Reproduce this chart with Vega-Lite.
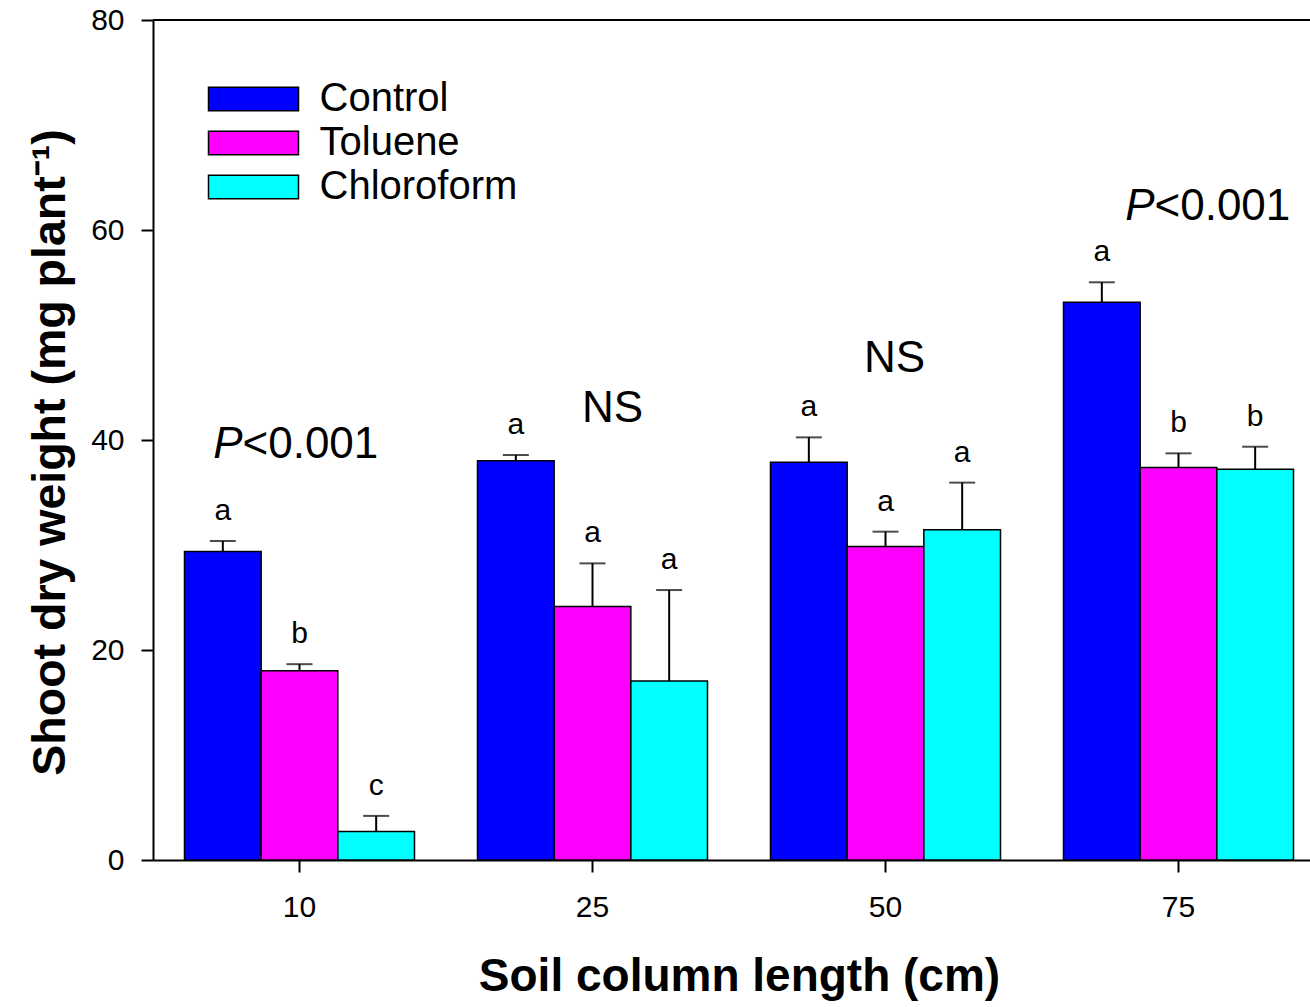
{
  "$schema": "https://vega.github.io/schema/vega-lite/v6.json",
  "autosize": {"type": "none"},
  "padding": {"left": 153, "top": 20, "right": 0, "bottom": 147},
  "width": 1157,
  "height": 840,
  "background": "white",
  "config": {
    "view": {"stroke": null},
    "font": "Liberation Sans",
    "axis": {"grid": false, "domainColor": "black", "tickColor": "black", "labelColor": "black", "titleColor": "black", "domainWidth": 2, "tickWidth": 2, "labelFont": "Liberation Sans", "titleFont": "Liberation Sans"}
  },
  "datasets": {
    "bars": [
      {"length": "10", "treatment": "Control", "mean": 29.37, "upper": 30.38, "letter": "a"},
      {"length": "10", "treatment": "Toluene", "mean": 18.03, "upper": 18.65, "letter": "b"},
      {"length": "10", "treatment": "Chloroform", "mean": 2.72, "upper": 4.2, "letter": "c"},
      {"length": "25", "treatment": "Control", "mean": 38.03, "upper": 38.57, "letter": "a"},
      {"length": "25", "treatment": "Toluene", "mean": 24.15, "upper": 28.25, "letter": "a"},
      {"length": "25", "treatment": "Chloroform", "mean": 17.05, "upper": 25.71, "letter": "a"},
      {"length": "50", "treatment": "Control", "mean": 37.87, "upper": 40.25, "letter": "a"},
      {"length": "50", "treatment": "Toluene", "mean": 29.86, "upper": 31.27, "letter": "a"},
      {"length": "50", "treatment": "Chloroform", "mean": 31.45, "upper": 35.94, "letter": "a"},
      {"length": "75", "treatment": "Control", "mean": 53.11, "upper": 55.02, "letter": "a"},
      {"length": "75", "treatment": "Toluene", "mean": 37.38, "upper": 38.73, "letter": "b"},
      {"length": "75", "treatment": "Chloroform", "mean": 37.22, "upper": 39.36, "letter": "b"}
    ],
    "notes": [
      {"length": "10", "pos": 38.3, "kind": "P"},
      {"length": "75", "pos": 60.95, "kind": "P"},
      {"length": "25", "pos": 41.75, "kind": "NS"},
      {"length": "50", "pos": 46.5, "kind": "NS"}
    ]
  },
  "encoding": {
    "x": {
      "field": "length", "type": "nominal", "sort": ["10", "25", "50", "75"],
      "scale": {"range": [0, 1172], "paddingInner": 0.215, "paddingOuter": 0.1075},
      "axis": {"labelAngle": 0, "labelFontSize": 30, "labelPadding": 20, "tickSize": 12, "title": "Soil column length (cm)", "titleFontSize": 46, "titleFontWeight": "bold", "titlePadding": 32}
    }
  },
  "layer": [
    {
      "data": {"name": "bars"},
      "mark": {"type": "bar", "stroke": "black", "strokeWidth": 1.5},
      "encoding": {
        "xOffset": {"field": "treatment", "type": "nominal", "sort": ["Control", "Toluene", "Chloroform"], "scale": {"paddingInner": 0, "paddingOuter": 0}},
        "y": {
          "field": "mean", "type": "quantitative",
          "scale": {"domain": [0, 80], "nice": false},
          "axis": {"values": [0, 20, 40, 60, 80], "labelFontSize": 30, "labelPadding": 17, "tickSize": 12, "title": "Shoot dry weight (mg plant⁻¹)", "titleFontSize": 46.5, "titleFontWeight": "bold", "titlePadding": 16, "titleY": 432}
        },
        "color": {
          "field": "treatment", "type": "nominal", "sort": ["Control", "Toluene", "Chloroform"],
          "scale": {"domain": ["Control", "Toluene", "Chloroform"], "range": ["#0000FF", "#FF00FF", "#00FFFF"]},
          "legend": {
            "title": null, "orient": "none", "legendX": 80.5, "legendY": 59, "padding": 0,
            "symbolType": "M-3.6,-0.94H3.6V0.94H-3.6Z", "symbolSize": 625, "symbolStrokeColor": "black", "symbolStrokeWidth": 1.5, "symbolOpacity": 1,
            "symbolOffset": 0, "labelOffset": 46, "labelFontSize": 40, "labelFont": "Liberation Sans", "labelColor": "black", "rowPadding": 4, "labelLimit": 400
          }
        }
      }
    },
    {
      "data": {"name": "bars"},
      "mark": {"type": "rule", "color": "black", "strokeWidth": 2},
      "encoding": {
        "xOffset": {"field": "treatment", "type": "nominal", "sort": ["Control", "Toluene", "Chloroform"]},
        "y": {"field": "mean", "type": "quantitative"},
        "y2": {"field": "upper"}
      }
    },
    {
      "data": {"name": "bars"},
      "mark": {"type": "tick", "color": "black", "size": 26, "thickness": 2, "orient": "horizontal"},
      "encoding": {
        "xOffset": {"field": "treatment", "type": "nominal", "sort": ["Control", "Toluene", "Chloroform"]},
        "y": {"field": "upper", "type": "quantitative"}
      }
    },
    {
      "data": {"name": "bars"},
      "mark": {"type": "text", "fontSize": 30, "color": "black", "baseline": "alphabetic", "dy": -21},
      "encoding": {
        "xOffset": {"field": "treatment", "type": "nominal", "sort": ["Control", "Toluene", "Chloroform"]},
        "y": {"field": "upper", "type": "quantitative"},
        "text": {"field": "letter"}
      }
    },
    {
      "data": {"name": "notes"},
      "transform": [{"filter": "datum.length === '10'"}],
      "mark": {"type": "text", "text": "P", "fontStyle": "italic", "fontSize": 44, "align": "right", "baseline": "alphabetic", "dx": -57, "color": "black"},
      "encoding": {"y": {"field": "pos", "type": "quantitative"}}
    },
    {
      "data": {"name": "notes"},
      "transform": [{"filter": "datum.length === '10'"}],
      "mark": {"type": "text", "text": "<0.001", "fontSize": 44, "align": "left", "baseline": "alphabetic", "dx": -57, "color": "black"},
      "encoding": {"y": {"field": "pos", "type": "quantitative"}}
    },
    {
      "data": {"name": "notes"},
      "transform": [{"filter": "datum.length === '75'"}],
      "mark": {"type": "text", "text": "P", "fontStyle": "italic", "fontSize": 44, "align": "right", "baseline": "alphabetic", "dx": -24, "color": "black"},
      "encoding": {"y": {"field": "pos", "type": "quantitative"}}
    },
    {
      "data": {"name": "notes"},
      "transform": [{"filter": "datum.length === '75'"}],
      "mark": {"type": "text", "text": "<0.001", "fontSize": 44, "align": "left", "baseline": "alphabetic", "dx": -24, "color": "black"},
      "encoding": {"y": {"field": "pos", "type": "quantitative"}}
    },
    {
      "data": {"name": "notes"},
      "transform": [{"filter": "datum.length === '25'"}],
      "mark": {"type": "text", "text": "NS", "fontSize": 44, "align": "center", "baseline": "alphabetic", "dx": 20, "color": "black"},
      "encoding": {"y": {"field": "pos", "type": "quantitative"}}
    },
    {
      "data": {"name": "notes"},
      "transform": [{"filter": "datum.length === '50'"}],
      "mark": {"type": "text", "text": "NS", "fontSize": 44, "align": "center", "baseline": "alphabetic", "dx": 9, "color": "black"},
      "encoding": {"y": {"field": "pos", "type": "quantitative"}}
    },
    {
      "data": {"values": [{"top": 80}]},
      "mark": {"type": "rule", "color": "black", "strokeWidth": 2},
      "encoding": {"x": null, "y": {"field": "top", "type": "quantitative"}}
    }
  ]
}
